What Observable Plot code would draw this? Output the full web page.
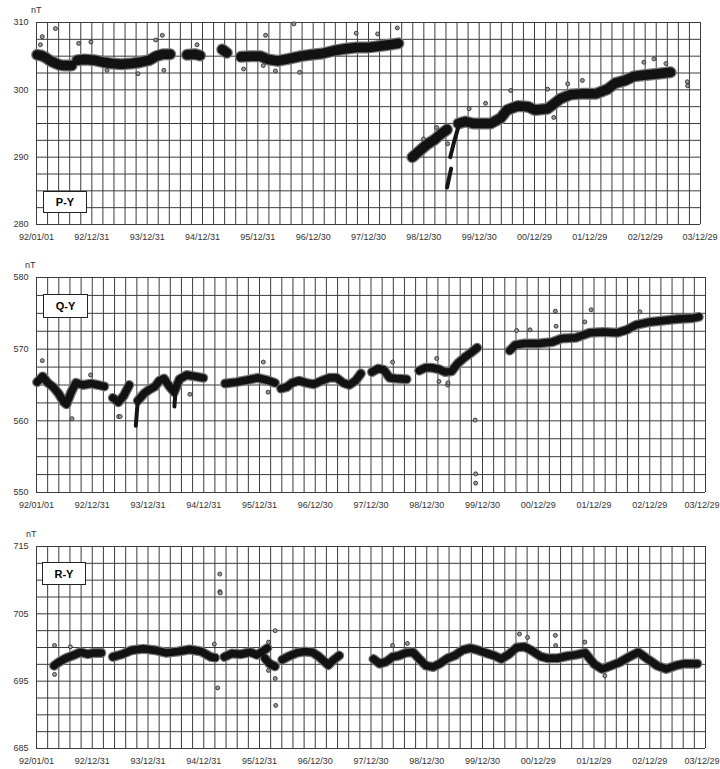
<!DOCTYPE html>
<html>
<head>
<meta charset="utf-8">
<script src="https://cdn.jsdelivr.net/npm/d3@7"></script>
<script src="https://cdn.jsdelivr.net/npm/@observablehq/plot@0.6"></script>
<style>
  body { margin: 0; background: #fff; }
  #chart { position: relative; width: 720px; height: 769px; overflow: hidden; font-family: 'Liberation Sans', Arial, sans-serif; }
  .panel { position: absolute; left: 0; }
  .unit { position: absolute; font-size: 9px; color: #333; line-height: 10px; }
  .tag { position: absolute; background: #fff; border: 1px solid #222; box-sizing: border-box;
         font-weight: bold; font-size: 11px; color: #000; display: flex; align-items: center; justify-content: center; }
</style>
</head>
<body>
<div id="chart"></div>
<script>
// ---------- shared axis data ----------
const xStart = "1992-01-01";
const xEnd = "2003-12-29";
const xTickDates = ["1992-01-01","1992-12-31","1993-12-31","1994-12-31","1995-12-31","1996-12-30",
  "1997-12-30","1998-12-30","1999-12-30","2000-12-29","2001-12-29","2002-12-29","2003-12-29"];

const pyTicks = [280, 290, 300, 310];
const qyTicks = [550, 560, 570, 580];
const ryTicks = [685, 695, 705, 715];

// ---------- P-Y ----------
const pyBand = [
  ["1992-01-05",305.2,1],["1992-02-01",305.1,1],["1992-03-01",304.8,1],["1992-04-01",304.3,1],["1992-05-01",304.0,1],["1992-06-01",303.7,1],["1992-07-01",303.6,1],["1992-08-20",303.6,1],
  ["1992-09-25",304.4,2],["1992-11-15",304.5,2],["1993-01-15",304.4,2],["1993-03-15",304.1,2],["1993-05-15",303.9,2],["1993-07-15",303.8,2],["1993-09-15",303.9,2],["1993-11-15",304.1,2],["1994-01-15",304.4,2],["1994-03-01",305.0,2],["1994-04-15",305.3,2],["1994-06-01",305.3,2],
  ["1994-09-20",305.2,3],["1994-11-10",305.3,3],["1994-12-15",305.1,3],
  ["1995-05-10",306.0,4],["1995-06-10",305.5,4],
  ["1995-09-10",304.9,5],["1995-11-15",305.0,5],["1996-01-15",305.0,5],["1996-03-10",304.5,5],["1996-05-10",304.3,5],["1996-07-20",304.6,5],["1996-10-10",305.0,5],["1996-12-15",305.2,5],["1997-03-01",305.4,5],["1997-05-15",305.8,5],["1997-08-01",306.1,5],["1997-10-15",306.3,5],["1998-01-01",306.3,5],["1998-03-15",306.5,5],["1998-05-15",306.7,5],["1998-07-15",306.9,5],
  ["1998-10-15",290.0,6],["1998-11-20",290.7,6],["1999-01-20",291.9,6],["1999-03-10",292.6,6],["1999-04-20",293.4,6],["1999-06-01",294.1,6],
  ["1999-08-15",295.0,7],["1999-10-01",295.3,7],["1999-11-20",295.0,7],["2000-01-10",295.0,7],["2000-03-15",295.0,7],["2000-05-20",295.8,7],["2000-07-01",297.0,7],["2000-09-10",297.6,7],["2000-11-15",297.5,7],["2001-01-01",297.0,7],["2001-03-25",297.2,7],["2001-05-05",297.9,7],["2001-06-20",298.7,7],["2001-08-25",299.3,7],["2001-11-01",299.4,7],["2002-02-05",299.4,7],["2002-04-25",300.1,7],["2002-06-15",301.0,7],["2002-08-20",301.4,7],["2002-10-15",302.0,7],["2003-01-01",302.2,7],["2003-03-25",302.4,7],["2003-06-15",302.6,7]
];
const pyStreaks = [
  ["1999-06-01",285.5,1],["1999-06-28",288.3,1],
  ["1999-06-22",290.0,2],["1999-07-20",292.5,2],["1999-08-15",294.5,2]
];
const pyOutliers = [
  ["1992-01-27",306.7],["1992-02-08",307.9],["1992-05-05",309.1],["1992-10-05",306.9],["1992-12-25",307.1],["1993-04-10",302.9],["1993-11-01",302.4],["1994-02-25",307.4],["1994-04-10",308.1],["1994-04-20",302.9],["1994-11-25",306.7],["1995-09-28",303.1],["1996-02-05",303.6],["1996-02-20",308.1],["1996-04-25",302.8],["1996-08-25",309.8],["1996-10-01",302.6],["1997-10-10",308.4],["1998-02-28",308.3],["1998-07-08",309.2],["1998-12-28",292.7],["1999-03-25",294.4],["1999-06-05",292.0],["1999-10-25",297.2],["2000-02-10",298.0],["2000-07-25",299.9],["2001-03-25",300.1],["2001-05-05",295.9],["2001-08-05",300.9],["2001-11-10",301.4],["2002-12-20",304.1],["2003-02-25",304.6],["2003-05-15",303.9],["2003-10-03",301.2],["2003-10-05",300.6]
];

// ---------- Q-Y ----------
const qyBand = [
  ["1992-01-05",565.4,1],["1992-02-10",566.2,1],["1992-03-15",565.3,1],["1992-04-20",564.7,1],["1992-05-25",563.8,1],["1992-06-28",562.6,1],["1992-07-15",562.3,1],["1992-08-15",564.0,1],["1992-09-15",565.3,1],["1992-10-30",565.0,1],["1992-12-25",565.2,1],["1993-02-08",565.0,1],["1993-03-20",564.8,1],
  ["1993-05-15",563.2,2],["1993-06-20",562.6,2],["1993-07-25",563.5,2],["1993-08-30",565.0,2],
  ["1993-10-25",562.8,3],["1993-12-05",563.8,3],["1994-01-05",564.3,3],["1994-02-15",564.8,3],["1994-03-15",565.6,3],["1994-04-15",565.9,3],["1994-05-20",564.8,3],["1994-06-20",564.0,3],["1994-07-25",565.8,3],["1994-09-10",566.4,3],["1994-11-01",566.2,3],["1994-12-28",566.0,3],
  ["1995-05-20",565.2,4],["1995-08-01",565.4,4],["1995-10-15",565.7,4],["1995-12-20",566.0,4],["1996-03-01",565.6,4],["1996-04-10",565.3,4],
  ["1996-05-20",564.5,5],["1996-06-25",564.7,5],["1996-08-01",565.3,5],["1996-09-15",565.6,5],["1996-11-01",565.3,5],["1996-12-20",565.1,5],["1997-02-10",565.6,5],["1997-04-01",566.0,5],["1997-05-20",566.0,5],["1997-07-01",565.3,5],["1997-08-10",565.0,5],["1997-09-20",565.6,5],["1997-10-25",566.6,5],
  ["1998-01-05",566.8,6],["1998-02-15",567.3,6],["1998-03-25",567.1,6],["1998-05-01",566.0,6],["1998-06-10",565.9,6],["1998-08-20",565.8,6],
  ["1998-11-10",567.0,7],["1998-12-20",567.4,7],["1999-02-01",567.4,7],["1999-03-20",567.2,7],["1999-05-01",566.8,7],["1999-06-10",566.9,7],["1999-07-20",568.0,7],["1999-09-01",568.8,7],["1999-10-15",569.5,7],["1999-11-25",570.2,7],
  ["2000-06-25",569.8,8],["2000-08-01",570.6,8],["2000-10-01",570.8,8],["2001-01-01",570.8,8],["2001-04-01",571.0,8],["2001-06-01",571.5,8],["2001-09-01",571.6,8],["2001-12-01",572.3,8],["2002-03-01",572.4,8],["2002-06-01",572.3,8],["2002-08-01",572.7,8],["2002-10-01",573.4,8],["2003-01-01",573.8,8],["2003-04-01",574.0,8],["2003-07-01",574.2,8],["2003-10-01",574.3,8],["2003-11-15",574.5,8]
];
const qyStreaks = [
  ["1993-10-12",559.3,1],["1993-10-25",562.8,1],
  ["1994-06-22",562.0,2],["1994-06-28",563.8,2]
];
const qyOutliers = [
  ["1992-02-08",568.4],["1992-08-20",560.3],["1992-12-20",566.4],["1993-06-22",560.6],["1993-07-02",560.6],["1994-10-01",563.7],["1996-01-25",568.2],["1996-02-25",564.0],["1998-05-20",568.2],["1999-03-05",568.7],["1999-03-20",565.5],["1999-05-15",565.0],["1999-05-18",565.3],["1999-11-12",560.1],["1999-11-15",552.6],["1999-11-15",551.3],["2000-08-10",572.6],["2000-11-05",572.7],["2001-04-20",575.3],["2001-04-25",573.2],["2001-10-30",573.8],["2001-12-10",575.5],["2002-10-25",575.2]
];

// ---------- R-Y ----------
const ryBand = [
  ["1992-04-25",697.3,1],["1992-05-25",697.8,1],["1992-07-10",698.4,1],["1992-08-25",698.8,1],["1992-10-15",699.3,1],["1992-12-01",699.0,1],["1993-01-10",699.2,1],["1993-02-28",699.2,1],
  ["1993-05-15",698.6,2],["1993-07-15",699.0,2],["1993-09-15",699.6,2],["1993-12-01",699.8,2],["1994-02-15",699.6,2],["1994-05-01",699.2,2],["1994-07-15",699.4,2],["1994-10-01",699.7,2],["1994-12-15",699.4,2],["1995-02-15",698.6,2],["1995-03-15",698.5,2],
  ["1995-05-15",698.6,3],["1995-07-01",699.1,3],["1995-09-01",699.0,3],["1995-11-01",699.3,3],["1995-12-15",698.9,3],["1996-01-25",699.5,3],["1996-02-20",699.9,3],
  ["1996-02-05",698.4,4],["1996-03-05",697.6,4],["1996-04-10",697.2,4],
  ["1996-05-28",698.2,5],["1996-07-10",698.7,5],["1996-09-01",699.2,5],["1996-10-20",699.4,5],["1996-12-10",699.3,5],["1997-01-20",698.7,5],["1997-03-01",697.9,5],["1997-03-25",697.4,5],["1997-05-01",698.2,5],["1997-06-05",698.8,5],
  ["1998-01-15",698.3,6],["1998-02-25",697.6,6],["1998-04-10",697.9,6],["1998-05-20",698.6,6],["1998-07-01",698.8,6],["1998-08-15",699.2,6],["1998-10-01",699.3,6],["1998-11-15",698.2,6],["1998-12-25",697.3,6],["1999-02-10",697.1,6],["1999-03-25",697.6,6],["1999-05-15",698.4,6],["1999-07-01",698.8,6],["1999-08-20",699.6,6],["1999-10-10",699.9,6],["1999-12-01",699.6,6],["2000-01-20",699.2,6],["2000-03-15",698.8,6],["2000-05-01",698.3,6],["2000-06-20",699.0,6],["2000-08-10",700.0,6],["2000-10-01",700.1,6],["2000-11-20",699.5,6],["2001-01-10",698.7,6],["2001-03-01",698.4,6],["2001-05-01",698.4,6],["2001-07-01",698.7,6],["2001-09-01",698.9,6],["2001-11-01",699.2,6],["2002-01-01",697.5,6],["2002-02-20",696.8,6],["2002-04-20",697.3,6],["2002-06-15",697.8,6],["2002-08-15",698.6,6],["2002-10-15",699.3,6],["2002-12-15",698.3,6],["2003-02-15",697.3,6],["2003-04-15",696.8,6],["2003-06-15",697.3,6],["2003-08-15",697.6,6],["2003-11-05",697.6,6]
];
const ryStreaks = [];
const ryOutliers = [
  ["1992-04-28",700.3],["1992-04-28",696.0],["1992-08-10",700.1],["1995-03-10",700.5],["1995-04-01",694.0],["1995-04-15",710.9],["1995-04-15",708.3],["1995-04-18",708.1],["1996-02-28",700.8],["1996-02-28",696.6],["1996-04-12",702.5],["1996-04-12",695.4],["1996-04-15",691.4],["1998-05-20",700.3],["1998-08-25",700.6],["2000-08-28",702.0],["2000-10-20",701.5],["2001-04-20",701.8],["2001-04-22",700.3],["2001-10-30",700.8],["2002-03-10",695.8]
];

// ---------- drawing ----------
const DAY = 864e5;
const x0 = new Date(xStart), x1 = new Date(xEnd);
const gridX = d3.range(0, Math.round((x1 - x0) / DAY) + 1, 73).map(d => new Date(+x0 + d * DAY));
const fmt = d3.utcFormat("%y/%m/%d");
const toRow = ([d, v, g]) => ({date: new Date(d), value: v, group: g});
const tickRows = xTickDates.map(d => new Date(d));

function makePlot(cfg) {
  const gridY = d3.range(cfg.yTicks[0], cfg.yTicks[cfg.yTicks.length - 1] + 0.01, 2.5);
  const band = cfg.band.map(toRow);
  const streaks = cfg.streaks.map(toRow);
  return Plot.plot({
    width: 720, height: cfg.height,
    marginLeft: 36, marginRight: cfg.mr, marginTop: cfg.mt, marginBottom: cfg.mb,
    style: {fontFamily: "'Liberation Sans', Arial, sans-serif", fontSize: "9px", color: "#333", background: "transparent", overflow: "visible"},
    x: {type: "utc", domain: [x0, x1], label: null},
    y: {domain: [cfg.yTicks[0], cfg.yTicks[cfg.yTicks.length - 1]], label: null},
    marks: [
      Plot.ruleY(gridY, {stroke: "#3c3c3c", strokeWidth: 1}),
      Plot.ruleX(gridX, {stroke: "#3c3c3c", strokeWidth: 1}),
      Plot.axisX(tickRows.slice(0, -1), {tickSize: 0, tickPadding: 9, tickFormat: fmt, fontSize: 9, label: null}),
      Plot.axisX(tickRows.slice(-1), {tickSize: 0, tickPadding: 9, tickFormat: fmt, fontSize: 9, label: null, textAnchor: "end", dx: cfg.lastDx}),
      Plot.axisY(cfg.yTicks, {tickSize: 0, tickPadding: 8, fontSize: 9, label: null}),
      // soft grey halo (open-circle edges of the dense scatter)
      Plot.line(band, {x: "date", y: "value", z: "group", stroke: "#777", strokeWidth: cfg.bandWidth + 2.5, strokeLinecap: "round", strokeLinejoin: "round"}),
      Plot.line(band, {x: "date", y: "value", z: "group", stroke: "#121212", strokeWidth: cfg.bandWidth, strokeLinecap: "round", strokeLinejoin: "round"}),
      Plot.line(streaks, {x: "date", y: "value", z: "group", stroke: "#151515", strokeWidth: 4, strokeLinecap: "round"}),
      Plot.dot(cfg.outliers.map(toRow), {x: "date", y: "value", r: 2, fill: "#999", stroke: "#222", strokeWidth: 0.8})
    ]
  });
}

const chart = document.getElementById("chart");
const panels = [
  {top: 0, height: 250, mt: 22, mb: 26, mr: 20, yTicks: pyTicks, band: pyBand, streaks: pyStreaks, outliers: pyOutliers, bandWidth: 9.5, lastDx: 17,
   label: "P-Y", unit: {left: 31, top: 5}, tag: {left: 43, top: 191, w: 44, h: 22}},
  {top: 250, height: 265, mt: 27, mb: 23, mr: 15, yTicks: qyTicks, band: qyBand, streaks: qyStreaks, outliers: qyOutliers, bandWidth: 7.5, lastDx: 14,
   label: "Q-Y", unit: {left: 25, top: 260}, tag: {left: 43, top: 294, w: 45, h: 24}},
  {top: 515, height: 254, mt: 31, mb: 21, mr: 15, yTicks: ryTicks, band: ryBand, streaks: ryStreaks, outliers: ryOutliers, bandWidth: 7.5, lastDx: 14,
   label: "R-Y", unit: {left: 26, top: 529}, tag: {left: 42, top: 562, w: 44, h: 23}}
];

for (const p of panels) {
  const wrap = document.createElement("div");
  wrap.className = "panel";
  wrap.style.top = p.top + "px";
  wrap.appendChild(makePlot(p));
  chart.appendChild(wrap);

  const unit = document.createElement("div");
  unit.className = "unit";
  unit.style.left = p.unit.left + "px";
  unit.style.top = p.unit.top + "px";
  unit.textContent = "nT";
  chart.appendChild(unit);

  const tag = document.createElement("div");
  tag.className = "tag";
  tag.style.left = p.tag.left + "px";
  tag.style.top = p.tag.top + "px";
  tag.style.width = p.tag.w + "px";
  tag.style.height = p.tag.h + "px";
  tag.textContent = p.label;
  chart.appendChild(tag);
}
</script>
</body>
</html>
